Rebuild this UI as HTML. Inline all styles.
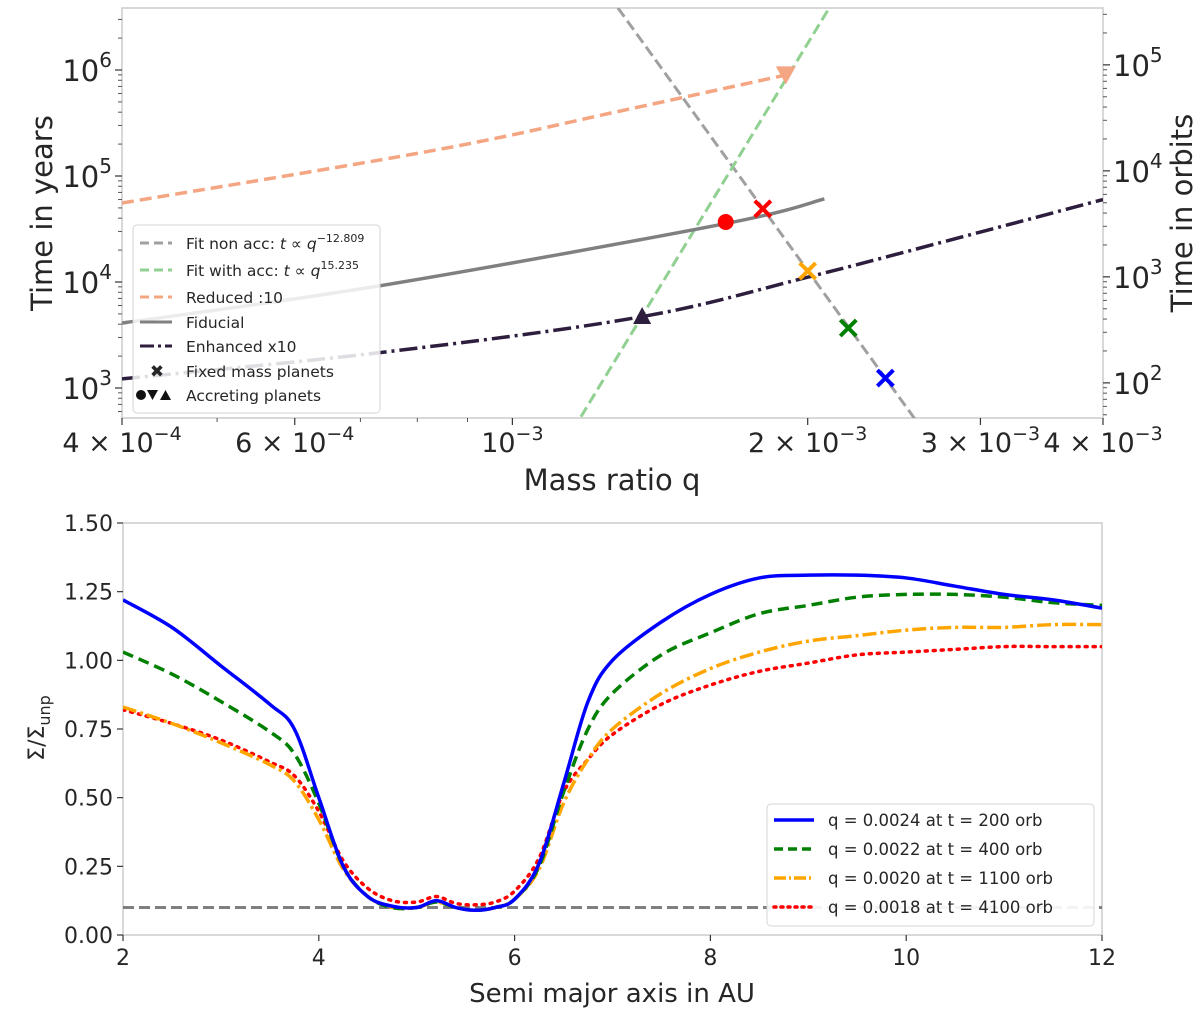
<!DOCTYPE html>
<html><head><meta charset="utf-8"><style>
html,body{margin:0;background:#fff;overflow:hidden;width:1200px;height:1018px;}
svg{display:block;}
svg text{font-family:"DejaVu Sans","Liberation Sans",sans-serif;fill:#262626;}
</style></head><body>
<svg id="fig" width="1200" height="1018" viewBox="0 0 1200 1018" xmlns="http://www.w3.org/2000/svg">
<defs>
<clipPath id="clipTop"><rect x="122" y="8" width="981" height="410"/></clipPath>
<clipPath id="clipBot"><rect x="123" y="523" width="979" height="412"/></clipPath>
</defs>
<g id="top"></g>
<g id="bot"></g>
</svg>
<script>
// ===== Top chart data =====
const reducedQ = [4e-4, 8.36e-4, 1.3e-3, 1.9e-3];
const reducedT = [55600, 176000, 418000, 897000];
const fiducialQ = [4e-4, 7.3e-4, 1.64e-3, 2.08e-3];
const fiducialT = [4100, 9160, 35200, 60700];
const enhancedQ = [4e-4, 7.4e-4, 1.35e-3, 2e-3, 3e-3, 4e-3];
const enhancedT = [1220, 2180, 4680, 11100, 29600, 60000];
const fixedQ = [1.8e-3, 2.0e-3, 2.2e-3, 2.4e-3];
const fixedT = [49000, 12700, 3680, 1240];
const fixedColors = ['#ff0000', '#ffa500', '#008000', '#0000ff'];
const accQ = [1.65e-3, 1.9e-3, 1.356e-3];
const accT = [36800, 890000, 4780];
const accShapes = ['circle', 'tridown', 'triup'];
const accColors = ['#ff0000', '#f4a582', '#2d1e3e'];
const nonAccExp = -12.809, nonAccRefQ = 2.4e-3, nonAccRefT = 1240;
const accExp = 15.235, accRefQ = 1.356e-3, accRefT = 4780;
const xTickQ = [4e-4, 6e-4, 1e-3, 2e-3, 3e-3, 4e-3];
const xTickBase = ['4', '6', '', '2', '3', '4'];
const xTickExp = ['−4', '−4', '−3', '−3', '−3', '−3'];
const yTickYears = [1e3, 1e4, 1e5, 1e6];
const yTickOrbits = [1e2, 1e3, 1e4, 1e5];
const yearsPerOrbit = 11.18;

// ===== Bottom chart data =====
const radius = [2,2.5,3,3.5,3.75,4,4.25,4.5,4.75,5,5.2,5.4,5.6,5.8,6,6.25,6.5,6.75,7,7.5,8,8.5,9,9.5,10,10.5,11,11.5,12];
const sigBlue = [1.22,1.12,0.98,0.84,0.75,0.50,0.25,0.14,0.105,0.10,0.125,0.10,0.09,0.10,0.13,0.26,0.55,0.85,1.00,1.14,1.24,1.30,1.31,1.31,1.30,1.27,1.24,1.22,1.19];
const sigGreen = [1.03,0.95,0.85,0.74,0.66,0.48,0.25,0.14,0.10,0.10,0.12,0.10,0.09,0.10,0.13,0.25,0.52,0.75,0.88,1.02,1.10,1.17,1.20,1.23,1.24,1.24,1.23,1.21,1.20];
const sigOrange = [0.83,0.77,0.70,0.62,0.56,0.42,0.24,0.14,0.10,0.10,0.12,0.10,0.09,0.10,0.13,0.24,0.48,0.64,0.75,0.88,0.97,1.03,1.07,1.09,1.11,1.12,1.12,1.13,1.13];
const sigRed = [0.82,0.77,0.71,0.63,0.58,0.45,0.27,0.17,0.125,0.12,0.14,0.115,0.11,0.12,0.16,0.28,0.52,0.64,0.73,0.84,0.91,0.96,0.99,1.02,1.03,1.04,1.05,1.05,1.05];
const floorLevel = 0.1;
const botXTicks = [2,4,6,8,10,12];
const botYTicks = [0,0.25,0.5,0.75,1.0,1.25,1.5];
const botLegend = ['q = 0.0024 at t = 200 orb','q = 0.0022 at t = 400 orb','q = 0.0020 at t = 1100 orb','q = 0.0018 at t = 4100 orb'];

const NS = 'http://www.w3.org/2000/svg';
function mk(parent, tag, attrs, text){
  const e = document.createElementNS(NS, tag);
  for (const k in attrs) e.setAttribute(k, attrs[k]);
  if (text !== undefined) e.textContent = text;
  parent.appendChild(e); return e;
}
function smooth(pts){
  if (pts.length < 3) return 'M' + pts.map(p=>p.join(',')).join('L');
  let d = 'M' + pts[0][0] + ',' + pts[0][1];
  for (let i=0;i<pts.length-1;i++){
    const p0=pts[Math.max(0,i-1)],p1=pts[i],p2=pts[i+1],p3=pts[Math.min(pts.length-1,i+2)];
    const c1x=p1[0]+(p2[0]-p0[0])/6,c1y=p1[1]+(p2[1]-p0[1])/6;
    const c2x=p2[0]-(p3[0]-p1[0])/6,c2y=p2[1]-(p3[1]-p1[1])/6;
    d+=`C${c1x},${c1y} ${c2x},${c2y} ${p2[0]},${p2[1]}`;
  }
  return d;
}

// ===== Top chart =====
const T = document.getElementById('top');
const TX0=122, TX1=1103, TY0=8, TY1=418;
const xq = q => TX0 + (Math.log10(q) - Math.log10(4e-4)) * 981;
const yt = t => 388 - (Math.log10(t) - 3) * 106;
let e;
e = mk(T,'rect',{x:TX0,y:TY0,width:TX1-TX0,height:TY1-TY0,fill:'#fff',stroke:'#cccccc','stroke-width':1.5});
 
[5e-4,7e-4,8e-4,9e-4].forEach(q=>{ mk(T,'line',{x1:xq(q),x2:xq(q),y1:TY1,y2:TY1+4,stroke:'#555','stroke-width':1}); });
xTickQ.forEach((q,i)=>{
  mk(T,'line',{x1:xq(q),x2:xq(q),y1:TY1,y2:TY1+7,stroke:'#333','stroke-width':1.2});
  const t = mk(T,'text',{x:xq(q),y:452,'font-size':27,'text-anchor':'middle'});
   
  t.innerHTML = (xTickBase[i]? xTickBase[i]+' × ':'') + '10<tspan dy="-12" font-size="19">'+xTickExp[i]+'</tspan>';
});
for (let d=2; d<=6; d++) for (let m=2;m<=9;m++){ const v=m*Math.pow(10,d); const y=yt(v); if(y>TY0&&y<TY1) mk(T,'line',{x1:TX0-4,x2:TX0,y1:y,y2:y,stroke:'#555','stroke-width':1}); }
yTickYears.forEach(v=>{
  mk(T,'line',{x1:TX0-7,x2:TX0,y1:yt(v),y2:yt(v),stroke:'#333','stroke-width':1.2});
  const t = mk(T,'text',{x:TX0-10,y:yt(v)+11,'font-size':29,'text-anchor':'end'});
   
  t.innerHTML='10<tspan dy="-14" font-size="20">'+Math.round(Math.log10(v))+'</tspan>';
});
for (let d=1; d<=5; d++) for (let m=2;m<=9;m++){ const v=m*Math.pow(10,d)*yearsPerOrbit; const y=yt(v); if(y>TY0&&y<TY1) mk(T,'line',{x1:TX1,x2:TX1+4,y1:y,y2:y,stroke:'#555','stroke-width':1}); }
yTickOrbits.forEach(v=>{
  const y=yt(v*yearsPerOrbit);
  mk(T,'line',{x1:TX1,x2:TX1+7,y1:y,y2:y,stroke:'#333','stroke-width':1.2});
  const t = mk(T,'text',{x:TX1+10,y:y+11,'font-size':29,'text-anchor':'start'});
   
  t.innerHTML='10<tspan dy="-14" font-size="20">'+Math.round(Math.log10(v))+'</tspan>';
});
e = mk(T,'text',{x:612,y:490,'font-size':29,'text-anchor':'middle'},'Mass ratio q');
 
e = mk(T,'text',{x:0,y:0,'font-size':29,'text-anchor':'middle',transform:'translate(52,213) rotate(-90)'},'Time in years');
 
e = mk(T,'text',{x:0,y:0,'font-size':29,'text-anchor':'middle',transform:'translate(1192,213) rotate(-90)'},'Time in orbits');
 

const TG = mk(T,'g',{'clip-path':'url(#clipTop)'});
function fitLine(refQ, refT, ex, color, name){
  const qs=[3e-4,5e-3];
  const pts=qs.map(q=>[xq(q), yt(refT*Math.pow(q/refQ,ex))]);
  const l = mk(TG,'path',{d:'M'+pts.map(p=>p.join(',')).join('L'),fill:'none',stroke:color,'stroke-width':3,'stroke-dasharray':'11,5'});
   
}
fitLine(nonAccRefQ,nonAccRefT,nonAccExp,'#a0a0a0','fit-non-acc-line');
fitLine(accRefQ,accRefT,accExp,'#90d090','fit-with-acc-line');
e = mk(TG,'path',{d:smooth(reducedQ.map((q,i)=>[xq(q),yt(reducedT[i])])),fill:'none',stroke:'#f4a582','stroke-width':3.5,'stroke-dasharray':'12,6'});
 
e = mk(TG,'path',{d:smooth(fiducialQ.map((q,i)=>[xq(q),yt(fiducialT[i])])),fill:'none',stroke:'#808080','stroke-width':3.5});
 
e = mk(TG,'path',{d:smooth(enhancedQ.map((q,i)=>[xq(q),yt(enhancedT[i])])),fill:'none',stroke:'#2d1e3e','stroke-width':3.5,'stroke-dasharray':'18,5,3,5'});
 
fixedQ.forEach((q,i)=>{
  const x=xq(q), y=yt(fixedT[i]), s=8;
  const m = mk(TG,'path',{d:`M${x-s},${y-s}L${x+s},${y+s}M${x-s},${y+s}L${x+s},${y-s}`,stroke:fixedColors[i],'stroke-width':4,fill:'none'});
   
});
accQ.forEach((q,i)=>{
  const x=xq(q), y=yt(accT[i]); let m;
  if (accShapes[i]==='circle') m = mk(TG,'circle',{cx:x,cy:y,r:8,fill:accColors[i]});
  else if (accShapes[i]==='tridown') m = mk(TG,'path',{d:`M${x-10},${y-9}L${x+10},${y-9}L${x},${y+9}Z`,fill:accColors[i]});
  else m = mk(TG,'path',{d:`M${x-9},${y+8}L${x+9},${y+8}L${x},${y-9}Z`,fill:accColors[i]});
   
});
const TL = mk(T,'g',{});
 
mk(TL,'rect',{x:133,y:225,width:247,height:188,rx:4,fill:'#fff','fill-opacity':0.85,stroke:'#d5d5d5'});
const legRows=[243,270,297,322,346,371,395];
const legLabels=['Fit non acc: ','Fit with acc: ','Reduced :10','Fiducial','Enhanced x10','Fixed mass planets','Accreting planets'];
legLabels.forEach((lab,i)=>{
  const y=legRows[i];
  if(i<5){
    const styles=[['#a0a0a0','9,5'],['#90d090','9,5'],['#f4a582','9,5'],['#808080',''],['#2d1e3e','14,4,3,4']];
    const ln = mk(TL,'line',{x1:140,x2:172,y1:y,y2:y,stroke:styles[i][0],'stroke-width':3,'stroke-dasharray':styles[i][1]});
     
  } else if(i===5){
    mk(TL,'text',{x:157,y:y+6,'font-size':17,'text-anchor':'middle','font-weight':'bold'},'✖');
  } else {
    mk(TL,'circle',{cx:141,cy:y,r:5,fill:'#111'});
    mk(TL,'path',{d:`M147,${y-5}L158,${y-5}L152.5,${y+5}Z`,fill:'#111'});
    mk(TL,'path',{d:`M160,${y+5}L171,${y+5}L165.5,${y-5}Z`,fill:'#111'});
  }
  const t = mk(TL,'text',{x:186,y:y+6,'font-size':15.5});
   
  if(i===0) t.innerHTML=lab+'<tspan font-style="italic">t ∝ q</tspan><tspan dy="-7" font-size="11">−12.809</tspan>';
  else if(i===1) t.innerHTML=lab+'<tspan font-style="italic">t ∝ q</tspan><tspan dy="-7" font-size="11">15.235</tspan>';
  else t.textContent=lab;
});

// ===== Bottom chart =====
const B = document.getElementById('bot');
const BX0=123, BX1=1102, BY0=523, BY1=935;
const xr = r => BX0 + (r-2)/10*(BX1-BX0);
const ys = s => BY1 - s/1.5*(BY1-BY0);
e = mk(B,'rect',{x:BX0,y:BY0,width:BX1-BX0,height:BY1-BY0,fill:'#fff',stroke:'#cccccc','stroke-width':1.5});
 
botXTicks.forEach(v=>{
  mk(B,'line',{x1:xr(v),x2:xr(v),y1:BY1,y2:BY1+6,stroke:'#333','stroke-width':1.2});
  const t=mk(B,'text',{x:xr(v),y:965,'font-size':22,'text-anchor':'middle'},String(v));
   
});
botYTicks.forEach(v=>{
  mk(B,'line',{x1:BX0-6,x2:BX0,y1:ys(v),y2:ys(v),stroke:'#333','stroke-width':1.2});
  const t=mk(B,'text',{x:BX0-10,y:ys(v)+8,'font-size':22,'text-anchor':'end'},v.toFixed(2));
   
});
e = mk(B,'text',{x:612,y:1002,'font-size':26,'text-anchor':'middle'},'Semi major axis in AU');
 
e = mk(B,'text',{x:0,y:0,'font-size':22,'text-anchor':'middle',transform:'translate(44,728) rotate(-90)'});
e.innerHTML='Σ/Σ<tspan dy="6" font-size="16">unp</tspan>';
 
const BG = mk(B,'g',{'clip-path':'url(#clipBot)'});
e = mk(BG,'line',{x1:BX0,x2:BX1,y1:ys(floorLevel),y2:ys(floorLevel),stroke:'#808080','stroke-width':3,'stroke-dasharray':'11,5'});
 
const series=[[sigRed,'#ff0000','2,6','round','red-profile'],[sigOrange,'#ffa500','14,4,3,4','butt','orange-profile'],[sigGreen,'#008000','11,6','butt','green-profile'],[sigBlue,'#0000ff','','butt','blue-profile']];
series.forEach(s=>{
  const p = mk(BG,'path',{d:smooth(radius.map((r,i)=>[xr(r),ys(s[0][i])])),fill:'none',stroke:s[1],'stroke-width':3.5,'stroke-dasharray':s[2],'stroke-linecap':s[3]});
   
});
const BL = mk(B,'g',{});
 
mk(BL,'rect',{x:767,y:804,width:327,height:122,rx:4,fill:'#fff','fill-opacity':0.9,stroke:'#d5d5d5'});
const blStyles=[['#0000ff','','butt'],['#008000','9,5','butt'],['#ffa500','12,3,2,3','butt'],['#ff0000','2,5','round']];
botLegend.forEach((lab,i)=>{
  const y=820+i*29;
  const ln=mk(BL,'line',{x1:774,x2:814,y1:y,y2:y,stroke:blStyles[i][0],'stroke-width':3.5,'stroke-dasharray':blStyles[i][1],'stroke-linecap':blStyles[i][2]});
   
  const t=mk(BL,'text',{x:828,y:y+6,'font-size':16.5},lab);
   
});
</script>
</body></html>
